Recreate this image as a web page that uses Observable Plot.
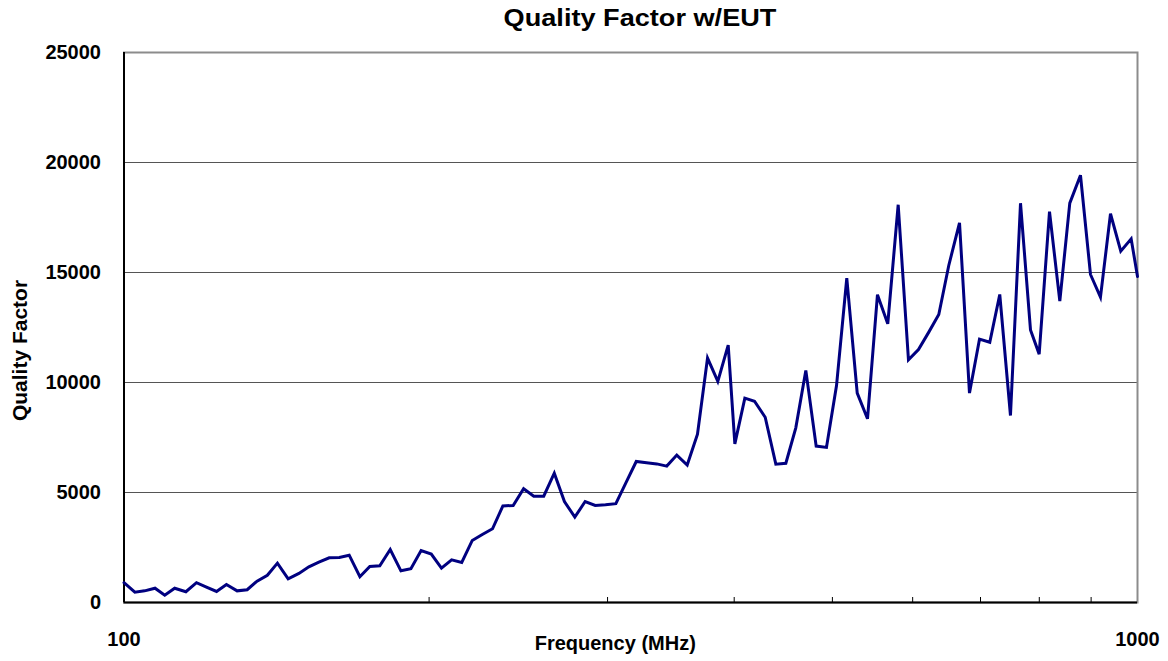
<!DOCTYPE html>
<html><head><meta charset="utf-8">
<script src="https://cdn.jsdelivr.net/npm/d3@7"></script>
<script src="https://cdn.jsdelivr.net/npm/@observablehq/plot@0.6"></script>
<style>
body{margin:0;background:#fff;font-family:"Liberation Sans",Arial,sans-serif;}
#title{position:relative;height:40px;width:1168px;}
#title span{position:absolute;left:640px;top:6px;font-size:24px;line-height:24px;font-weight:bold;white-space:nowrap;transform:translateX(-50%) scaleX(1.13);color:#000;}
#chart svg{display:block;}
</style></head>
<body>
<div id="title"><span>Quality Factor w/EUT</span></div>
<div id="chart"></div>
<script>
const frequencyMHz = [100, 102.5, 104.8, 107.3, 109.7, 112.2, 115.1, 117.9, 120.6, 123.4,
  126.2, 129.3, 132.3, 135.3, 138.5, 141.7, 145.2, 148.8, 152.2, 155.7,
  159.4, 163.1, 166.8, 170.9, 174.8, 178.8, 183.1, 187.6, 191.9, 196.4,
  201.0, 205.7, 210.5, 215.4, 220.6, 225.7, 231.0, 236.5, 242.1, 247.9,
  253.7, 259.5, 265.8, 272.0, 278.5, 285.1, 291.7, 298.6, 305.7, 313.0,
  320.2, 327.8, 335.5, 343.2, 351.1, 359.5, 368.0, 376.5, 385.4, 394.6,
  400.6, 409.8, 418.9, 429.2, 439.7, 449.8, 460.1, 470.7, 481.9, 493.3,
  504.7, 516.6, 529.0, 541.5, 553.9, 567.0, 580.6, 594.3, 608.0, 622.4,
  636.7, 651.3, 667.4, 682.7, 698.4, 714.9, 731.3, 749.3, 766.6, 784.2,
  799.8, 818.8, 838.2, 857.4, 878.5, 898.7, 919.3, 940.5, 962.7, 985.7, 1000];
const qualityFactor = [900, 470, 530, 650, 330, 650, 490, 900, 700, 500,
  820, 530, 580, 970, 1240, 1790, 1080, 1320, 1620, 1830,
  2030, 2050, 2150, 1170, 1640, 1670, 2410, 1440, 1540, 2360,
  2200, 1560, 1940, 1820, 2820, 3090, 3350, 4390, 4410, 5170,
  4830, 4830, 5880, 4590, 3880, 4590, 4410, 4440, 4490, 5470,
  6410, 6350, 6300, 6200, 6700, 6250, 7650, 11110, 10050, 11700,
  7210, 9290, 9150, 8420, 6290, 6330, 7940, 10550, 7110, 7050,
  9860, 14740, 9520, 8350, 13990, 12670, 18080, 11030, 11500, 12290,
  13090, 15320, 17260, 9520, 11970, 11830, 14000, 8500, 18150, 12390,
  11290, 17770, 13700, 18150, 19420, 14910, 13880, 17670, 15970, 16530, 14820];
const xTickLabels = [100, 1000];
const xMinorTicks = [200, 300, 400, 500, 600, 700, 800, 900];
const yTickValues = [0, 5000, 10000, 15000, 20000, 25000];
const xAxisTitle = "Frequency (MHz)";
const yAxisTitle = "Quality Factor";

const data = frequencyMHz.map((f, i) => ({f, q: qualityFactor[i]}));
const font = '"Liberation Sans", Arial, sans-serif';

const chart = Plot.plot({
  width: 1168,
  height: 621,
  marginTop: 12,
  marginBottom: 59,
  marginLeft: 123.5,
  marginRight: 31,
  style: {fontFamily: font, fontWeight: "bold", fontSize: "20px", color: "#000", background: "#fff", overflow: "visible"},
  x: {type: "log", domain: [xTickLabels[0], xTickLabels[xTickLabels.length - 1]]},
  y: {domain: [yTickValues[0], yTickValues[yTickValues.length - 1]]},
  marks: [
    Plot.gridY(yTickValues.slice(1, -1), {stroke: "#555", strokeOpacity: 1, strokeWidth: 1}),
    Plot.frame({stroke: "#8c8c8c", strokeWidth: 2}),
    Plot.ruleX([xTickLabels[0]], {stroke: "#000", strokeWidth: 2}),
    Plot.ruleY([yTickValues[0]], {stroke: "#000", strokeWidth: 2}),
    Plot.line(data, {x: "f", y: "q", stroke: "#000080", strokeWidth: 3, strokeLinejoin: "miter", strokeMiterlimit: 4}),
    Plot.axisY(yTickValues, {tickSize: 0, tickPadding: 23, tickFormat: d => String(d), label: null}),
    Plot.axisX(xTickLabels, {tickSize: 0, tickPadding: 29, tickFormat: d => String(d), label: null}),
    Plot.axisX(xMinorTicks, {tickSize: -5, tickFormat: () => "", label: null, stroke: "#000"}),
    Plot.text([xAxisTitle], {text: d => d, frameAnchor: "bottom", textAnchor: "middle", lineAnchor: "middle", dx: -15.5, dy: 41, fontSize: 20, fontWeight: "bold"}),
    Plot.text([yAxisTitle], {text: d => d, frameAnchor: "left", textAnchor: "middle", lineAnchor: "middle", dx: -103.5, dy: 23, rotate: -90, fontSize: 21, fontWeight: "bold"})
  ]
});
document.getElementById("chart").append(chart);
</script>
</body></html>
